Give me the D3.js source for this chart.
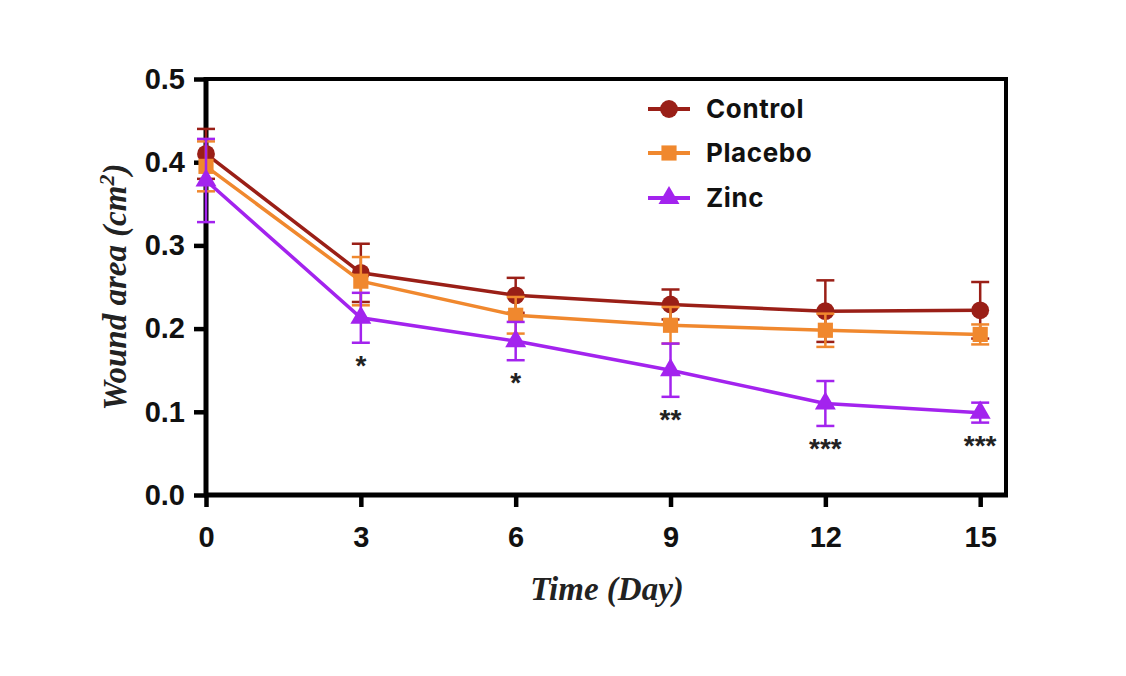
<!DOCTYPE html>
<html>
<head>
<meta charset="utf-8">
<script src="https://cdn.jsdelivr.net/npm/d3@7"></script>
<style>
  body { margin: 0; background: #fff; }
</style>
</head>
<body>
<div id="chart"></div>
<script>
// values
const days = [0, 3, 6, 9, 12, 15];
const controlMean = [0.410, 0.267, 0.240, 0.229, 0.221, 0.222];
const controlErr  = [0.030, 0.035, 0.021, 0.018, 0.037, 0.034];
const placeboMean = [0.395, 0.257, 0.216, 0.204, 0.198, 0.193];
const placeboErr  = [0.030, 0.029, 0.022, 0.022, 0.020, 0.012];
const zincMean    = [0.378, 0.213, 0.185, 0.150, 0.110, 0.099];
const zincErr     = [0.050, 0.030, 0.023, 0.032, 0.027, 0.012];
const stars       = ["", "*", "*", "**", "***", "***"];
const yTicks = [0.0, 0.1, 0.2, 0.3, 0.4, 0.5];

const series = [
  { name: "Control", mean: controlMean, err: controlErr, color: "#9a1f17", shape: d3.symbolCircle, size: 250 },
  { name: "Placebo", mean: placeboMean, err: placeboErr, color: "#f0882e", shape: d3.symbolSquare, size: 230 },
  { name: "Zinc", mean: zincMean, err: zincErr, color: "#a323ee", shape: d3.symbolTriangle, size: 190 }
];

const W = 1126, H = 676;
const margin = { top: 79, right: 120, bottom: 181, left: 206 };
const width = W - margin.left - margin.right,
      height = H - margin.top - margin.bottom;

const svg = d3.select("#chart").append("svg")
  .attr("width", W).attr("height", H);
const g = svg.append("g")
  .attr("transform", "translate(" + margin.left + "," + margin.top + ")");

const x = d3.scaleLinear().domain([0, 15.5]).range([0, width]);
const y = d3.scaleLinear().domain([0, 0.5]).range([height, 0]);

// frame (top and right)
g.append("path")
  .attr("d", "M0,0H" + width + "V" + height)
  .attr("fill", "none").attr("stroke", "#000").attr("stroke-width", 4);

const yAxis = g.append("g")
  .call(d3.axisLeft(y).tickValues(yTicks).tickFormat(d3.format(".1f")).tickSize(12).tickPadding(9));
const xAxis = g.append("g")
  .attr("transform", "translate(0," + height + ")")
  .call(d3.axisBottom(x).tickValues(days).tickSize(12).tickPadding(19));

[xAxis, yAxis].forEach(a => {
  a.select(".domain").attr("d", null);
  a.selectAll(".tick line").attr("stroke-width", 4.5);
  a.selectAll("text")
    .attr("font-family", "'Liberation Sans', Arial, sans-serif")
    .attr("font-weight", "bold").attr("font-size", 29).attr("fill", "#111");
});
// axis lines drawn explicitly so they span the full frame
g.append("line").attr("x1", 0).attr("x2", 0).attr("y1", -2).attr("y2", height + 2)
  .attr("stroke", "#000").attr("stroke-width", 5);
g.append("line").attr("x1", -2).attr("x2", width + 2).attr("y1", height).attr("y2", height)
  .attr("stroke", "#000").attr("stroke-width", 5);

// series
const line = d3.line().x((d, i) => x(days[i])).y(d => y(d));
series.forEach(s => {
  const sg = g.append("g");
  // error bars
  s.mean.forEach((m, i) => {
    const cx = x(days[i]);
    sg.append("line").attr("x1", cx).attr("x2", cx)
      .attr("y1", y(m - s.err[i])).attr("y2", y(m + s.err[i]))
      .attr("stroke", s.color).attr("stroke-width", 2.5);
    [m - s.err[i], m + s.err[i]].forEach(v => {
      sg.append("line").attr("x1", cx - 9).attr("x2", cx + 9)
        .attr("y1", y(v)).attr("y2", y(v))
        .attr("stroke", s.color).attr("stroke-width", 2.5);
    });
  });
  sg.append("path").datum(s.mean)
    .attr("d", line).attr("fill", "none")
    .attr("stroke", s.color).attr("stroke-width", 3.5);
  sg.selectAll("path.pt").data(s.mean).enter().append("path")
    .attr("class", "pt")
    .attr("transform", (d, i) => "translate(" + x(days[i]) + "," + y(d) + ")")
    .attr("d", d3.symbol().type(s.shape).size(s.size))
    .attr("fill", s.color);
});

// significance stars under zinc
g.selectAll("text.star").data(stars).enter().append("text")
  .attr("class", "star")
  .attr("x", (d, i) => x(days[i]))
  .attr("y", (d, i) => y(zincMean[i] - zincErr[i]) + 32)
  .attr("text-anchor", "middle")
  .attr("font-family", "'Liberation Sans', Arial, sans-serif")
  .attr("font-weight", "bold")
  .attr("font-size", 28).attr("fill", "#222")
  .text(d => d);

// legend
const legend = g.append("g").attr("transform", "translate(" + (648 - margin.left) + "," + (109 - margin.top) + ")");
series.forEach((s, i) => {
  const ly = [0, 44, 89][i];
  legend.append("line").attr("x1", 0).attr("x2", 42).attr("y1", ly).attr("y2", ly)
    .attr("stroke", s.color).attr("stroke-width", 4);
  legend.append("path").attr("transform", "translate(21," + ly + ")")
    .attr("d", d3.symbol().type(s.shape).size(s.size)).attr("fill", s.color);
  legend.append("text").attr("x", 58).attr("y", ly + 9)
    .attr("font-family", "Inter, 'Open Sans', sans-serif")
    .attr("font-weight", "bold").attr("font-size", 26).attr("letter-spacing", 0.6)
    .attr("fill", "#111")
    .text(s.name);
});

// axis titles
svg.append("text")
  .attr("x", 607).attr("y", 600)
  .attr("text-anchor", "middle")
  .attr("font-family", "'Liberation Serif', 'Times New Roman', serif")
  .attr("font-style", "italic").attr("font-weight", "bold").attr("font-size", 33)
  .attr("fill", "#222")
  .text("Time (Day)");

const yt = svg.append("text")
  .attr("transform", "translate(126," + (margin.top + y(0.25)) + ") rotate(-90)")
  .attr("text-anchor", "middle")
  .attr("font-family", "'Liberation Serif', 'Times New Roman', serif")
  .attr("font-style", "italic").attr("font-weight", "bold").attr("font-size", 33)
  .attr("fill", "#222");
yt.append("tspan").text("Wound area (cm");
yt.append("tspan").attr("baseline-shift", "super").attr("font-size", 22).text("2");
yt.append("tspan").text(")");
</script>
</body>
</html>
